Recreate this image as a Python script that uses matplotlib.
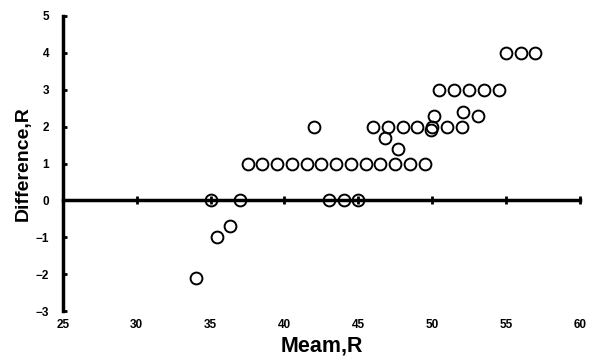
import matplotlib.pyplot as plt
import numpy as np

# mean and difference
mean_r = [34.0, 35.4, 36.3, 35.0, 37.0, 43.0, 44.0, 45.0,
          37.5, 38.5, 39.5, 40.5, 41.5, 42.5, 43.5, 44.5, 45.5, 46.5, 47.5, 48.5, 49.5,
          42.0, 46.0, 47.0, 48.0, 49.0, 50.0, 51.0, 52.0,
          46.8, 47.7, 49.9, 50.1, 52.1, 53.1,
          50.5, 51.5, 52.5, 53.5, 54.5,
          55.0, 56.0, 57.0]
diff_r = [-2.1, -1.0, -0.7, 0, 0, 0, 0, 0,
          1, 1, 1, 1, 1, 1, 1, 1, 1, 1, 1, 1, 1,
          2, 2, 2, 2, 2, 2, 2, 2,
          1.7, 1.4, 1.9, 2.3, 2.4, 2.3,
          3, 3, 3, 3, 3,
          4, 4, 4]
x_ticks = [25, 30, 35, 40, 45, 50, 55, 60]
y_ticks = [-3, -2, -1, 0, 1, 2, 3, 4, 5]

plt.rcParams['font.family'] = ['Liberation Sans', 'DejaVu Sans']
plt.rcParams['font.weight'] = 'bold'

fig = plt.figure(figsize=(5.94, 3.63), dpi=100)
ax = fig.add_axes([0.106, 0.143, 0.870, 0.813])
ax.set_xlim(25, 60)
ax.set_ylim(-3, 5)

# zero line carries the x ticks
ax.spines['top'].set_visible(False)
ax.spines['right'].set_visible(False)
ax.spines['bottom'].set_position(('data', 0))
ax.spines['bottom'].set_linewidth(2.5)
ax.spines['left'].set_linewidth(2.5)
ax.set_xticks(x_ticks)
ax.tick_params(axis='x', direction='inout', length=6, width=2, labelbottom=False)
ax.set_yticks(y_ticks)
ax.tick_params(axis='y', direction='in', length=3, width=2, labelsize=8.5, pad=10)

# labels along the bottom edge
sec = ax.secondary_xaxis('bottom')
sec.spines['bottom'].set_visible(False)
sec.set_xticks(x_ticks)
sec.tick_params(length=0, labelsize=8.5, pad=6)
for lab in sec.get_xticklabels():
    lab.set_fontweight('bold')

ax.plot(mean_r, diff_r, ls='', marker='o', markersize=8.5, markerfacecolor='none',
        markeredgecolor='black', markeredgewidth=1.4, clip_on=False, zorder=3)

sec.set_xlabel('Meam,R', fontsize=15.5, fontweight='bold', labelpad=3)
ax.set_ylabel('Difference,R', fontsize=14, fontweight='bold', labelpad=3)

fig.savefig('out.png', dpi=100)
